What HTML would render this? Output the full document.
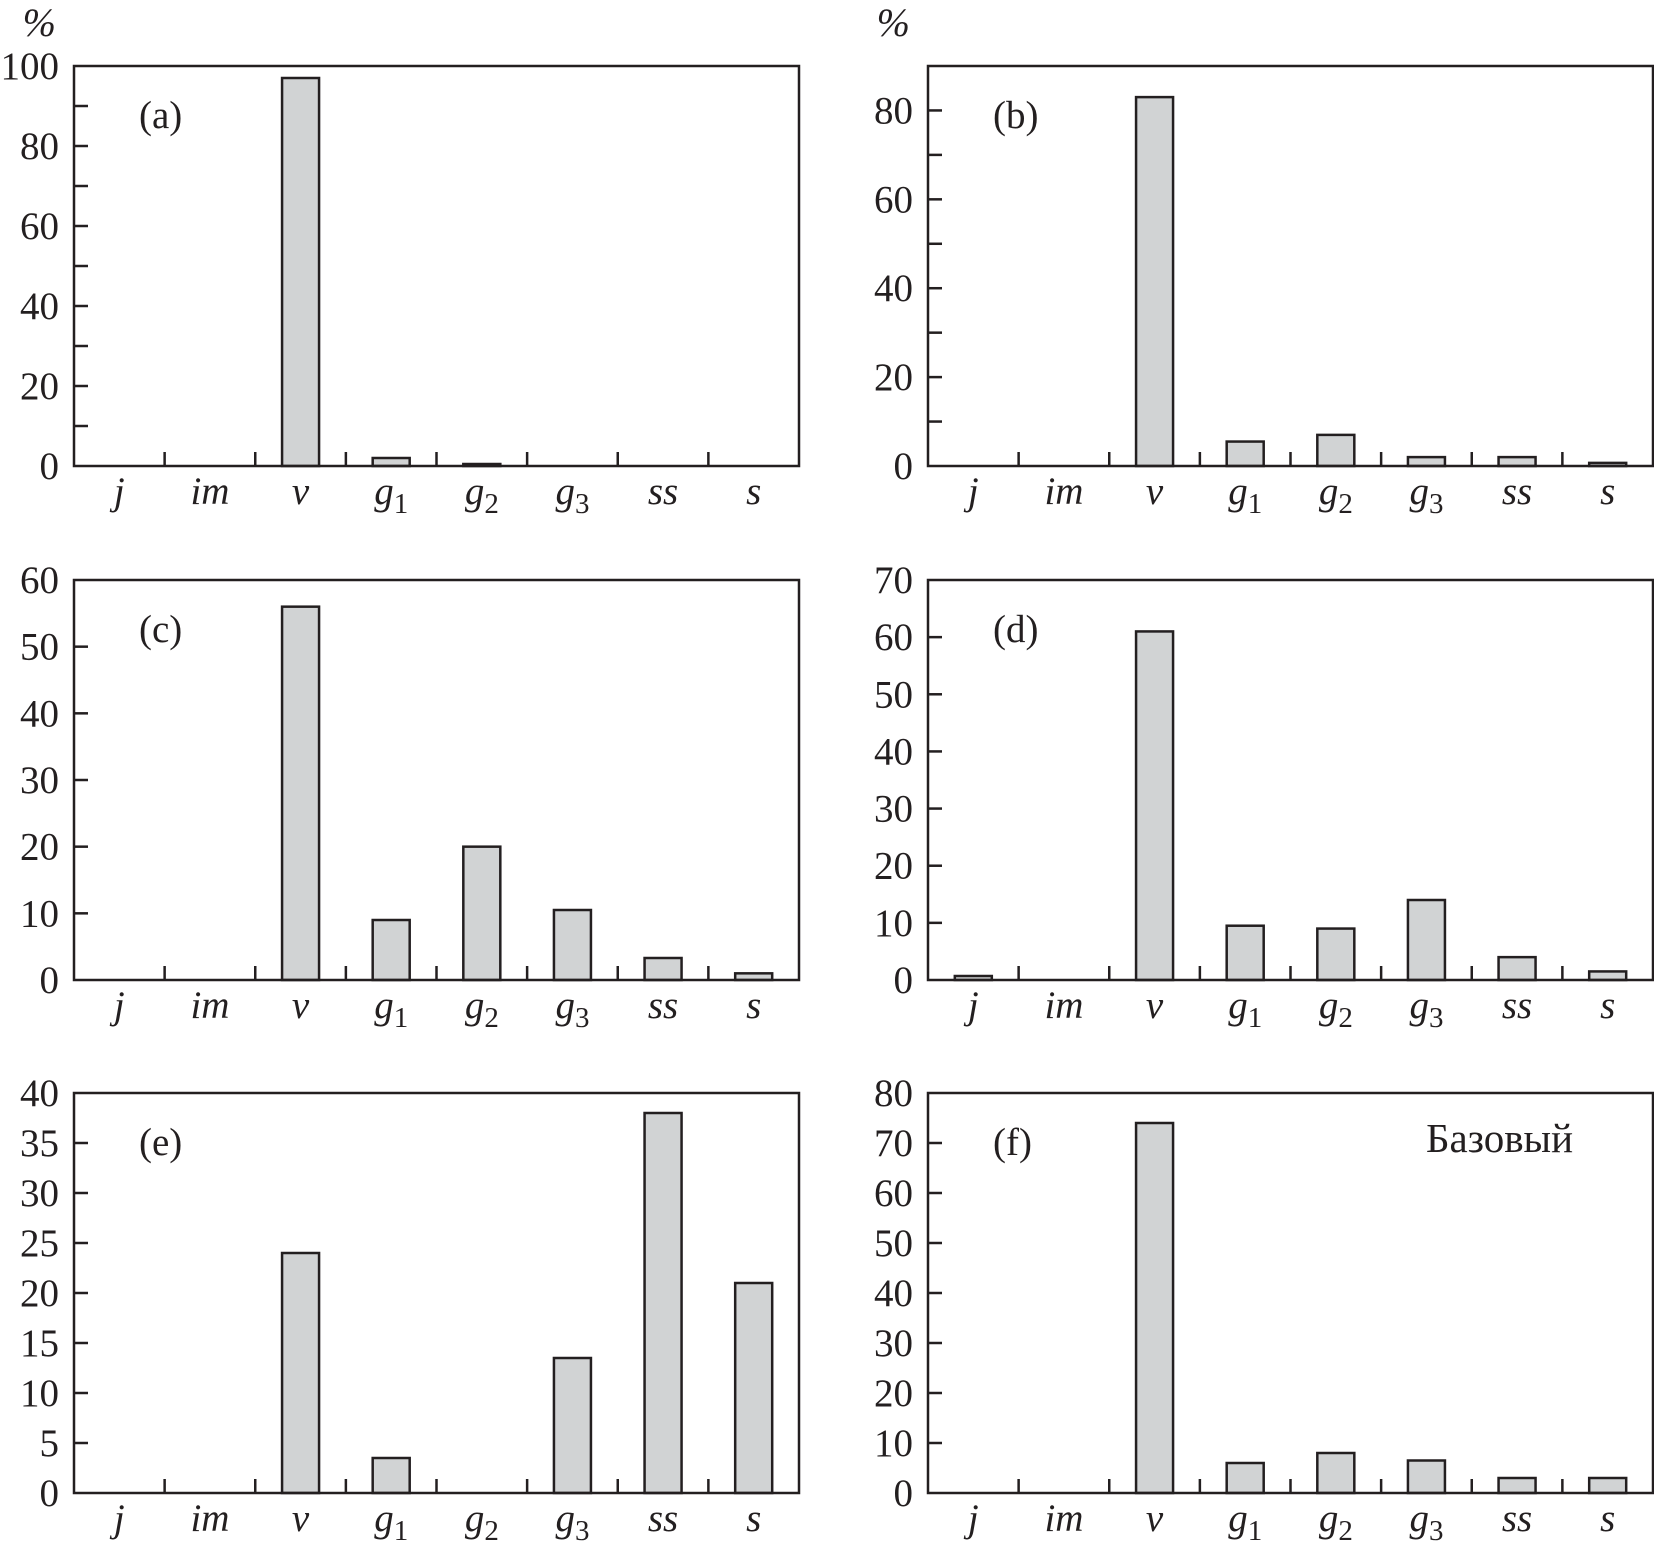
<!DOCTYPE html>
<html><head><meta charset="utf-8"><style>
html,body{margin:0;padding:0;background:#fff;}
svg{display:block;}
text{font-family:"Liberation Serif",serif;fill:#231f20;}
</style></head><body>
<svg id="fig" width="1654" height="1559" viewBox="0 0 1654 1559" xmlns="http://www.w3.org/2000/svg"></svg>
<script>
const categories = ["j","im","v","g1","g2","g3","ss","s"];
const valuesA = [0,0,97,2,0.5,0,0,0];
const valuesB = [0,0,83,5.5,7,2,2,0.7];
const valuesC = [0,0,56,9,20,10.5,3.3,1];
const valuesD = [0.7,0,61,9.5,9,14,4,1.5];
const valuesE = [0,0,24,3.5,0,13.5,38,21];
const valuesF = [0,0,74,6,8,6.5,3,3];
const maxA=100, maxB=90, maxC=60, maxD=70, maxE=40, maxF=80;
const ticksA=[0,20,40,60,80,100], ticksB=[0,20,40,60,80], ticksC=[0,10,20,30,40,50,60],
      ticksD=[0,10,20,30,40,50,60,70], ticksE=[0,5,10,15,20,25,30,35,40], ticksF=[0,10,20,30,40,50,60,70,80];
const minorA=10, minorB=10, minorC=10, minorD=10, minorE=5, minorF=10;

const NS="http://www.w3.org/2000/svg";
const svg=document.getElementById('fig');
function mk(tag,attrs,parent){const e=document.createElementNS(NS,tag);for(const k in attrs)e.setAttribute(k,attrs[k]);(parent||svg).appendChild(e);return e;}

const panels=[
 {id:'a',L:74,T:66,vals:valuesA,max:maxA,ticks:ticksA,minor:minorA,pct:true},
 {id:'b',L:928,T:66,vals:valuesB,max:maxB,ticks:ticksB,minor:minorB,pct:true},
 {id:'c',L:74,T:580,vals:valuesC,max:maxC,ticks:ticksC,minor:minorC},
 {id:'d',L:928,T:580,vals:valuesD,max:maxD,ticks:ticksD,minor:minorD},
 {id:'e',L:74,T:1093,vals:valuesE,max:maxE,ticks:ticksE,minor:minorE},
 {id:'f',L:928,T:1093,vals:valuesF,max:maxF,ticks:ticksF,minor:minorF,base:true},
];
const W=725,H=400,BW=37;
panels.forEach(p=>{
 const g=mk('g',{});
 
 
 const B=p.T+H, cw=W/8;
 const y=v=>B-v/p.max*H;
 const x=i=>p.L+cw*(i+0.5);
 p.vals.forEach((v,i)=>{
  if(v<=0)return;
  const r=mk('rect',{x:x(i)-BW/2,y:y(v),width:BW,height:B-y(v),fill:'#d1d3d4',stroke:'#231f20','stroke-width':2.5},g);
  
  
 });
 const fr=mk('rect',{x:p.L,y:p.T,width:W,height:H,fill:'none',stroke:'#231f20','stroke-width':2.5},g);
 
 
 for(let v=p.minor;v<p.max-0.001;v+=p.minor){
  mk('line',{x1:p.L,x2:p.L+14,y1:y(v),y2:y(v),stroke:'#231f20','stroke-width':2.5},g);
 }
 p.ticks.forEach(t=>{
  const tx=mk('text',{x:p.L-15,y:y(t)+13,'text-anchor':'end','font-size':39},g);
  tx.textContent=t;
  
  
 });
 for(let i=1;i<8;i++){
  mk('line',{x1:p.L+cw*i,x2:p.L+cw*i,y1:B,y2:B-14,stroke:'#231f20','stroke-width':2.5},g);
 }
 categories.forEach((c,i)=>{
  const tx=mk('text',{x:x(i),y:B+38,'text-anchor':'middle','font-size':39,'font-style':'italic'},g);
  
  
  if(c[0]==='g'){
   tx.textContent='g';
   const s=mk('tspan',{'font-size':29,'font-style':'normal',dy:9},tx);
   s.textContent=c.slice(1);
  } else tx.textContent=c;
 });
 const lab=mk('text',{x:p.L+65,y:p.T+62,'font-size':39},g);
 lab.textContent='('+p.id+')';
 
 
 if(p.pct){
  const pc=mk('text',{x:p.L-18,y:p.T-30,'text-anchor':'end','font-size':40,'font-style':'italic'},g);
  pc.textContent='%';
  
  
 }
 if(p.base){
  const bt=mk('text',{x:1426,y:1152,'font-size':41},g);
  bt.textContent='Базовый';
  
  
 }
});
</script>
</body></html>
